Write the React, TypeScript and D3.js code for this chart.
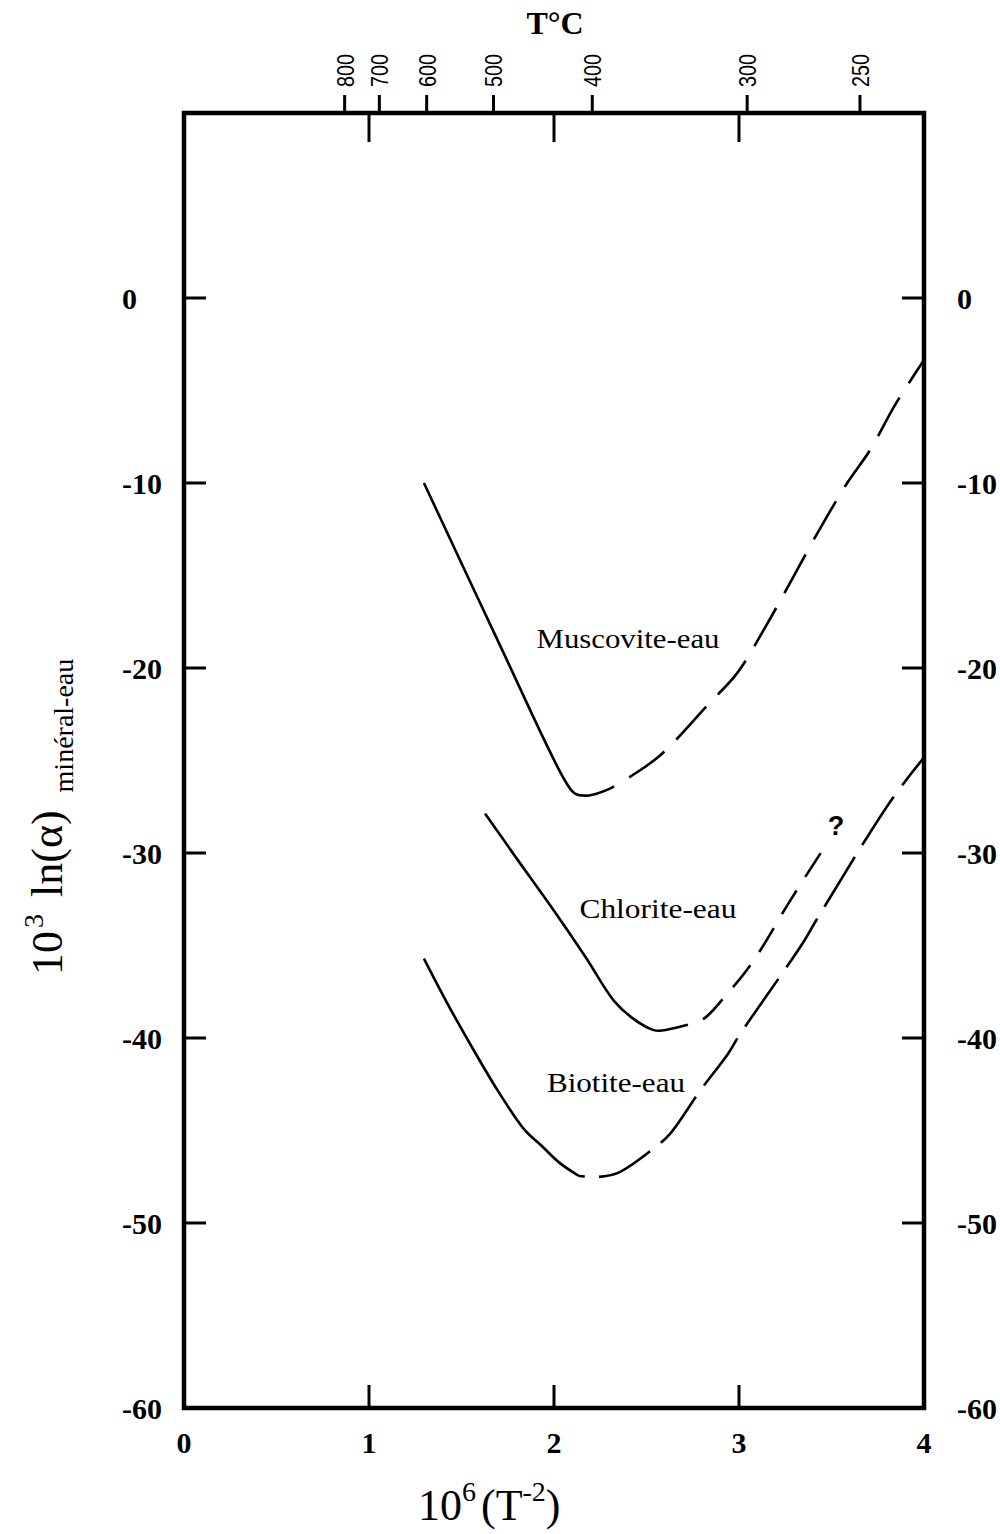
import React from "react";
import * as d3 from "d3";

// ---- data ----
const yTicks = [0, -10, -20, -30, -40, -50, -60];
const xTickLabels = [0, 1, 2, 3, 4];
const xInnerTicks = [1, 2, 3];
const tempTicks = [800, 700, 600, 500, 400, 300, 250];

const muscoviteSolid: [number, number][] = [
  [1.297, -10.0], [1.7, -18.6], [2.059, -26.08], [2.114, -26.79], [2.189, -26.89], [2.303, -26.52],
];
const muscoviteDashed: [number, number][] = [
  [2.303, -26.52], [2.422, -25.81], [2.573, -24.73], [2.838, -21.92], [2.989, -20.29],
  [3.157, -17.53], [3.427, -12.66], [3.584, -10.01], [3.708, -8.23], [3.843, -5.79], [4.0, -3.35],
];
const chloriteSolid: [number, number][] = [
  [1.627, -27.87], [1.795, -30.25], [2.0, -33.12], [2.173, -35.66], [2.324, -37.99],
  [2.422, -38.91], [2.535, -39.56], [2.573, -39.61], [2.724, -39.29],
];
const chloriteDashed: [number, number][] = [
  [2.724, -39.29], [2.816, -38.91], [2.941, -37.55], [3.027, -36.53], [3.114, -35.28],
  [3.27, -32.68], [3.443, -29.98],
];
const biotiteSolid: [number, number][] = [
  [1.297, -35.71], [1.416, -37.99], [1.546, -40.31], [1.697, -42.86], [1.84, -44.95],
  [1.93, -45.8], [2.03, -46.75], [2.135, -47.46],
];
const biotiteDashed: [number, number][] = [
  [2.135, -47.46], [2.238, -47.51], [2.346, -47.29], [2.535, -46.0], [2.627, -45.18],
  [2.789, -42.86], [2.941, -40.85], [3.0, -39.88], [3.346, -34.85], [3.416, -33.66],
  [3.822, -27.16], [4.0, -24.84],
];

const curveLabels = [
  { text: "Muscovite-eau", x: 2.4, y: -18.92, w: 183 },
  { text: "Chlorite-eau", x: 2.562, y: -33.5, w: 157 },
  { text: "Biotite-eau", x: 2.335, y: -42.9, w: 138 },
];

export default function App() {
  const x = d3.scaleLinear().domain([0, 4]).range([184, 924]);
  const y = d3.scaleLinear().domain([-60, 10]).range([1408, 113]);
  const line = d3
    .line<[number, number]>()
    .x((d) => x(d[0]))
    .y((d) => y(d[1]))
    .curve(d3.curveCatmullRom.alpha(0.5));
  const tempX = (t: number) => x(1e6 / Math.pow(t + 273.15, 2));
  const serif = "'Liberation Serif', 'Times New Roman', serif";
  const sans = "'Liberation Sans', Arial, sans-serif";
  const top = y(10);
  const bottom = y(-60);
  const left = x(0);
  const right = x(4);

  return (
    <svg
      width={1000}
      height={1534}
      viewBox="0 0 1000 1534"
      style={{ position: "absolute", left: 0, top: 0, background: "#fff" }}
    >
      <rect x={0} y={0} width={1000} height={1534} fill="#fff" />
      {/* frame */}
      <rect x={left} y={top} width={right - left} height={bottom - top} fill="none" stroke="#000" strokeWidth={4.5} />

      {/* left & right y ticks */}
      {yTicks.map((v) => (
        <g key={"yt" + v}>
          {v > -60 && (
            <>
              <line x1={left} x2={left + 22} y1={y(v)} y2={y(v)} stroke="#000" strokeWidth={3} />
              <line x1={right} x2={right - 22} y1={y(v)} y2={y(v)} stroke="#000" strokeWidth={3} />
            </>
          )}
          <text x={122} y={y(v)} dy="0.35em" fontFamily={serif} fontWeight="bold" fontSize={30}>
            {v}
          </text>
          <text x={957} y={y(v)} dy="0.35em" fontFamily={serif} fontWeight="bold" fontSize={30}>
            {v}
          </text>
        </g>
      ))}

      {/* bottom / top inner ticks and labels */}
      {xInnerTicks.map((v) => (
        <g key={"xt" + v}>
          <line x1={x(v)} x2={x(v)} y1={bottom} y2={bottom - 23} stroke="#000" strokeWidth={3} />
          <line x1={x(v)} x2={x(v)} y1={top} y2={top + 29} stroke="#000" strokeWidth={3} />
        </g>
      ))}
      {xTickLabels.map((v) => (
        <text key={"xl" + v} x={x(v)} y={1453} textAnchor="middle" fontFamily={serif} fontWeight="bold" fontSize={30}>
          {v}
        </text>
      ))}

      {/* temperature axis */}
      {tempTicks.map((t) => (
        <g key={"tt" + t}>
          <line x1={tempX(t)} x2={tempX(t)} y1={top} y2={top - 18} stroke="#000" strokeWidth={3} />
          <text
            transform={`translate(${tempX(t)},87) rotate(-90)`}
            dy="0.37em"
            fontFamily={sans}
            fontSize={24}
            textLength={33}
            lengthAdjust="spacingAndGlyphs"
          >
            {t}
          </text>
        </g>
      ))}
      <text x={555} y={34} textAnchor="middle" fontFamily={serif} fontWeight="bold" fontSize={32}>
        T°C
      </text>

      {/* curves */}
      <g fill="none" stroke="#000" strokeWidth={2.6}>
        <path d={line(muscoviteSolid) || ""} />
        <path d={line(muscoviteDashed) || ""} strokeDasharray="44 17" strokeDashoffset={-22} />
        <path d={line(chloriteSolid) || ""} />
        <path d={line(chloriteDashed) || ""} strokeDasharray="28 16" strokeDashoffset={-16} />
        <path d={line(biotiteSolid) || ""} />
        <path d={line(biotiteDashed) || ""} strokeDasharray="58 14" strokeDashoffset={-20} />
      </g>

      {curveLabels.map((l) => (
        <text
          key={l.text}
          x={x(l.x) - l.w / 2}
          y={y(l.y)}
          fontFamily={serif}
          fontSize={28}
          textLength={l.w}
          lengthAdjust="spacingAndGlyphs"
        >
          {l.text}
        </text>
      ))}
      <text x={836} y={835} textAnchor="middle" fontFamily={sans} fontWeight="bold" fontSize={27}>
        ?
      </text>

      {/* x axis title */}
      <text x={418} y={1520} fontFamily={serif} fontSize={44}>
        10
        <tspan fontSize={28} dy={-19}>6</tspan>
        <tspan fontSize={44} dy={19} dx={5}>(T</tspan>
        <tspan fontSize={28} dy={-19}>-2</tspan>
        <tspan fontSize={44} dy={19}>)</tspan>
      </text>

      {/* y axis title */}
      <text transform="translate(62,975) rotate(-90)" fontFamily={serif} fontSize={44}>
        10
        <tspan fontSize={28} dy={-19} dx={3}>3</tspan>
        <tspan fontSize={44} dy={19} dx={6}> ln(α)</tspan>
        <tspan fontSize={28} dy={11} dx={18}>minéral-eau</tspan>
      </text>
    </svg>
  );
}
